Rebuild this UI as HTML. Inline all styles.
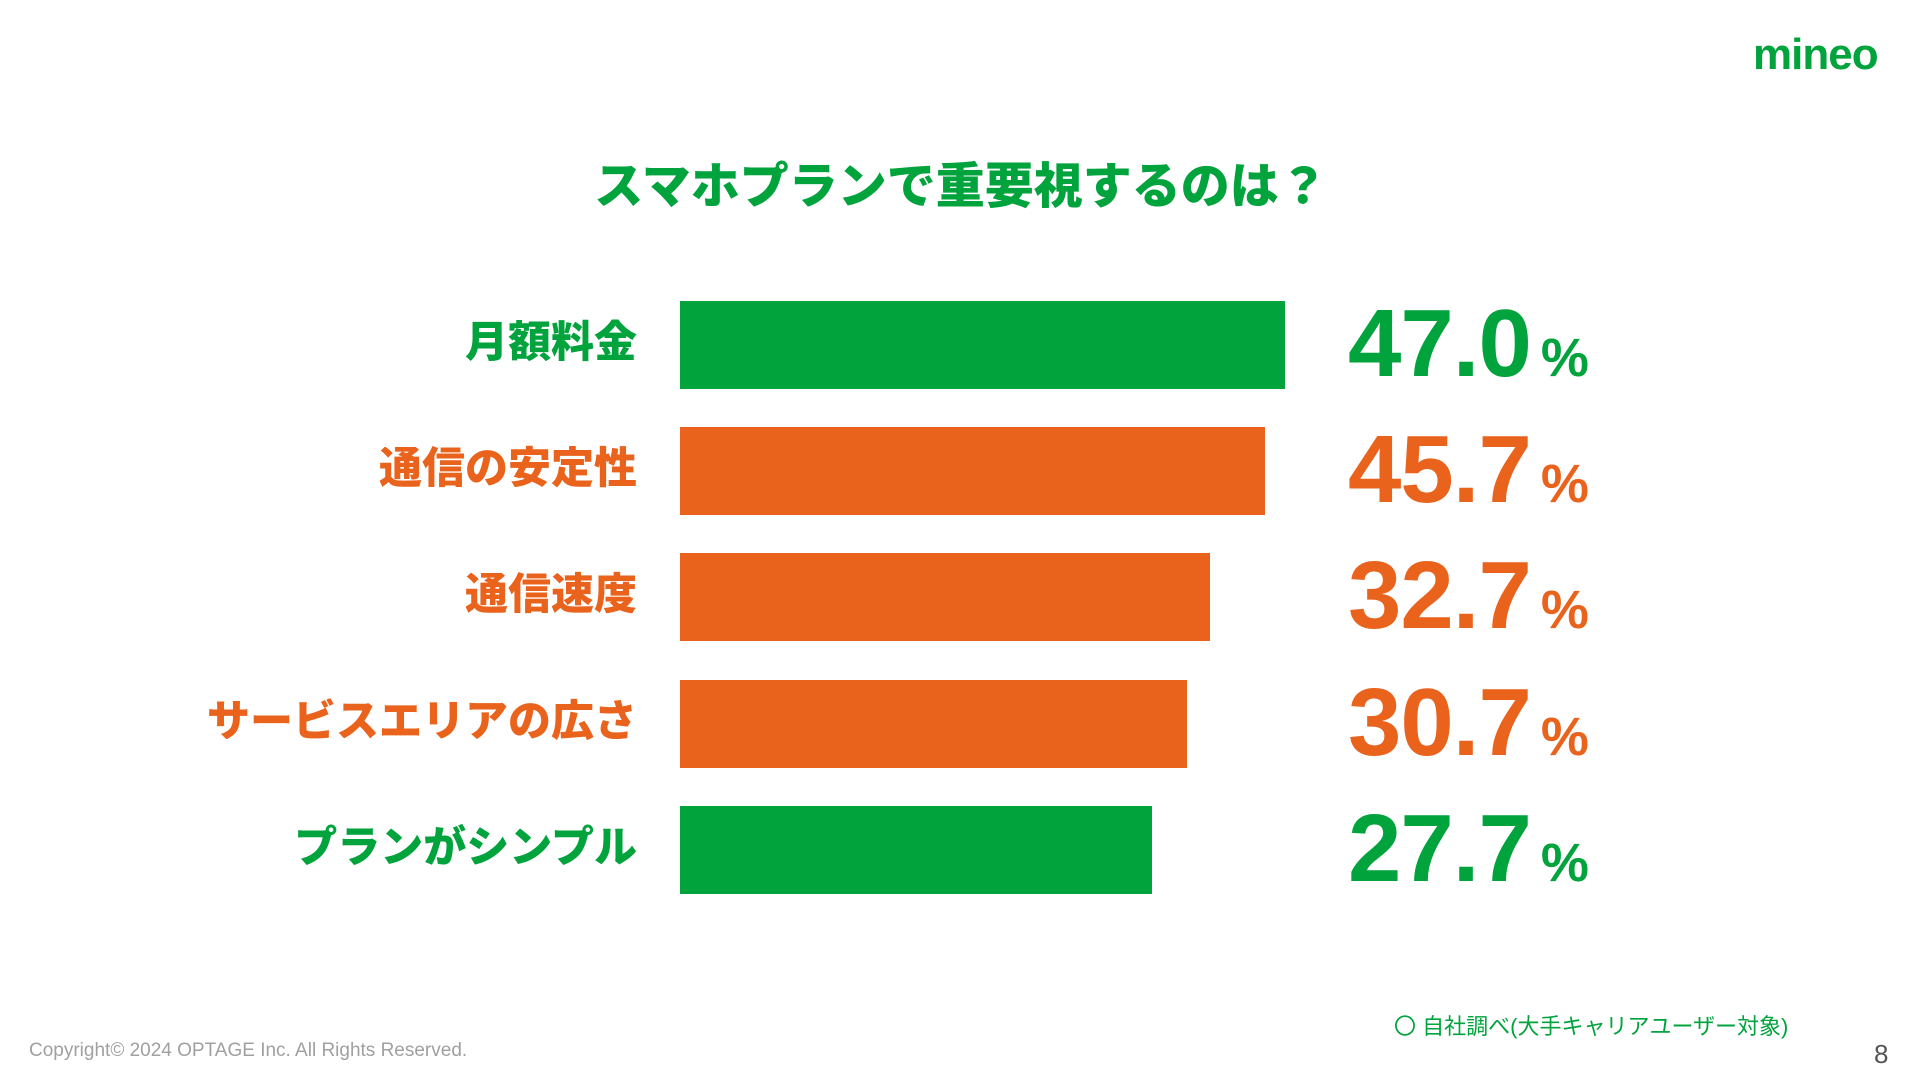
<!DOCTYPE html>
<html><head><meta charset="utf-8"><style>
body{margin:0;width:1920px;height:1080px;background:#fff;position:relative;overflow:hidden;font-family:"Liberation Sans","Noto Sans CJK JP",sans-serif}
.a{position:absolute;white-space:nowrap}
.g{color:#00a33c}.o{color:#e9631d}
.bar{position:absolute;left:680px;height:88px}
.lab{position:absolute;right:1283px;font-size:43px;font-weight:900;line-height:88px}
.val{position:absolute;left:1348px;font-weight:700;font-size:96px;line-height:88px;letter-spacing:-1px}
.val span{font-size:54px;letter-spacing:0;margin-left:10px}
</style></head><body>
<div class="a g" style="left:1753px;top:30px;font-size:44px;font-weight:900;letter-spacing:-1px">mineo</div>
<div class="a g" style="left:8px;width:1906px;text-align:center;top:147px;font-size:49px;font-weight:900">スマホプランで重要視するのは？</div>

<div class="bar" style="top:301px;width:605px;background:#00a33c"></div>
<div class="bar" style="top:427px;width:585px;background:#e9631d"></div>
<div class="bar" style="top:553px;width:530px;background:#e9631d"></div>
<div class="bar" style="top:680px;width:507px;background:#e9631d"></div>
<div class="bar" style="top:806px;width:472px;background:#00a33c"></div>

<div class="lab g" style="top:299px">月額料金</div>
<div class="lab o" style="top:425px">通信の安定性</div>
<div class="lab o" style="top:551px">通信速度</div>
<div class="lab o" style="top:678px">サービスエリアの広さ</div>
<div class="lab g" style="top:804px">プランがシンプル</div>

<div class="val g" style="top:300px">47.0<span>%</span></div>
<div class="val o" style="top:426px">45.7<span>%</span></div>
<div class="val o" style="top:552px">32.7<span>%</span></div>
<div class="val o" style="top:679px">30.7<span>%</span></div>
<div class="val g" style="top:805px">27.7<span>%</span></div>

<div class="a g" style="left:1394px;top:1009px;font-size:22px">〇 自社調べ(大手キャリアユーザー対象)</div>
<div class="a" style="left:29px;top:1040px;font-size:19px;color:#a0a0a0">Copyright© 2024 OPTAGE Inc. All Rights Reserved.</div>
<div class="a" style="left:1874px;top:1039px;font-size:26px;color:#555">8</div>
</body></html>
